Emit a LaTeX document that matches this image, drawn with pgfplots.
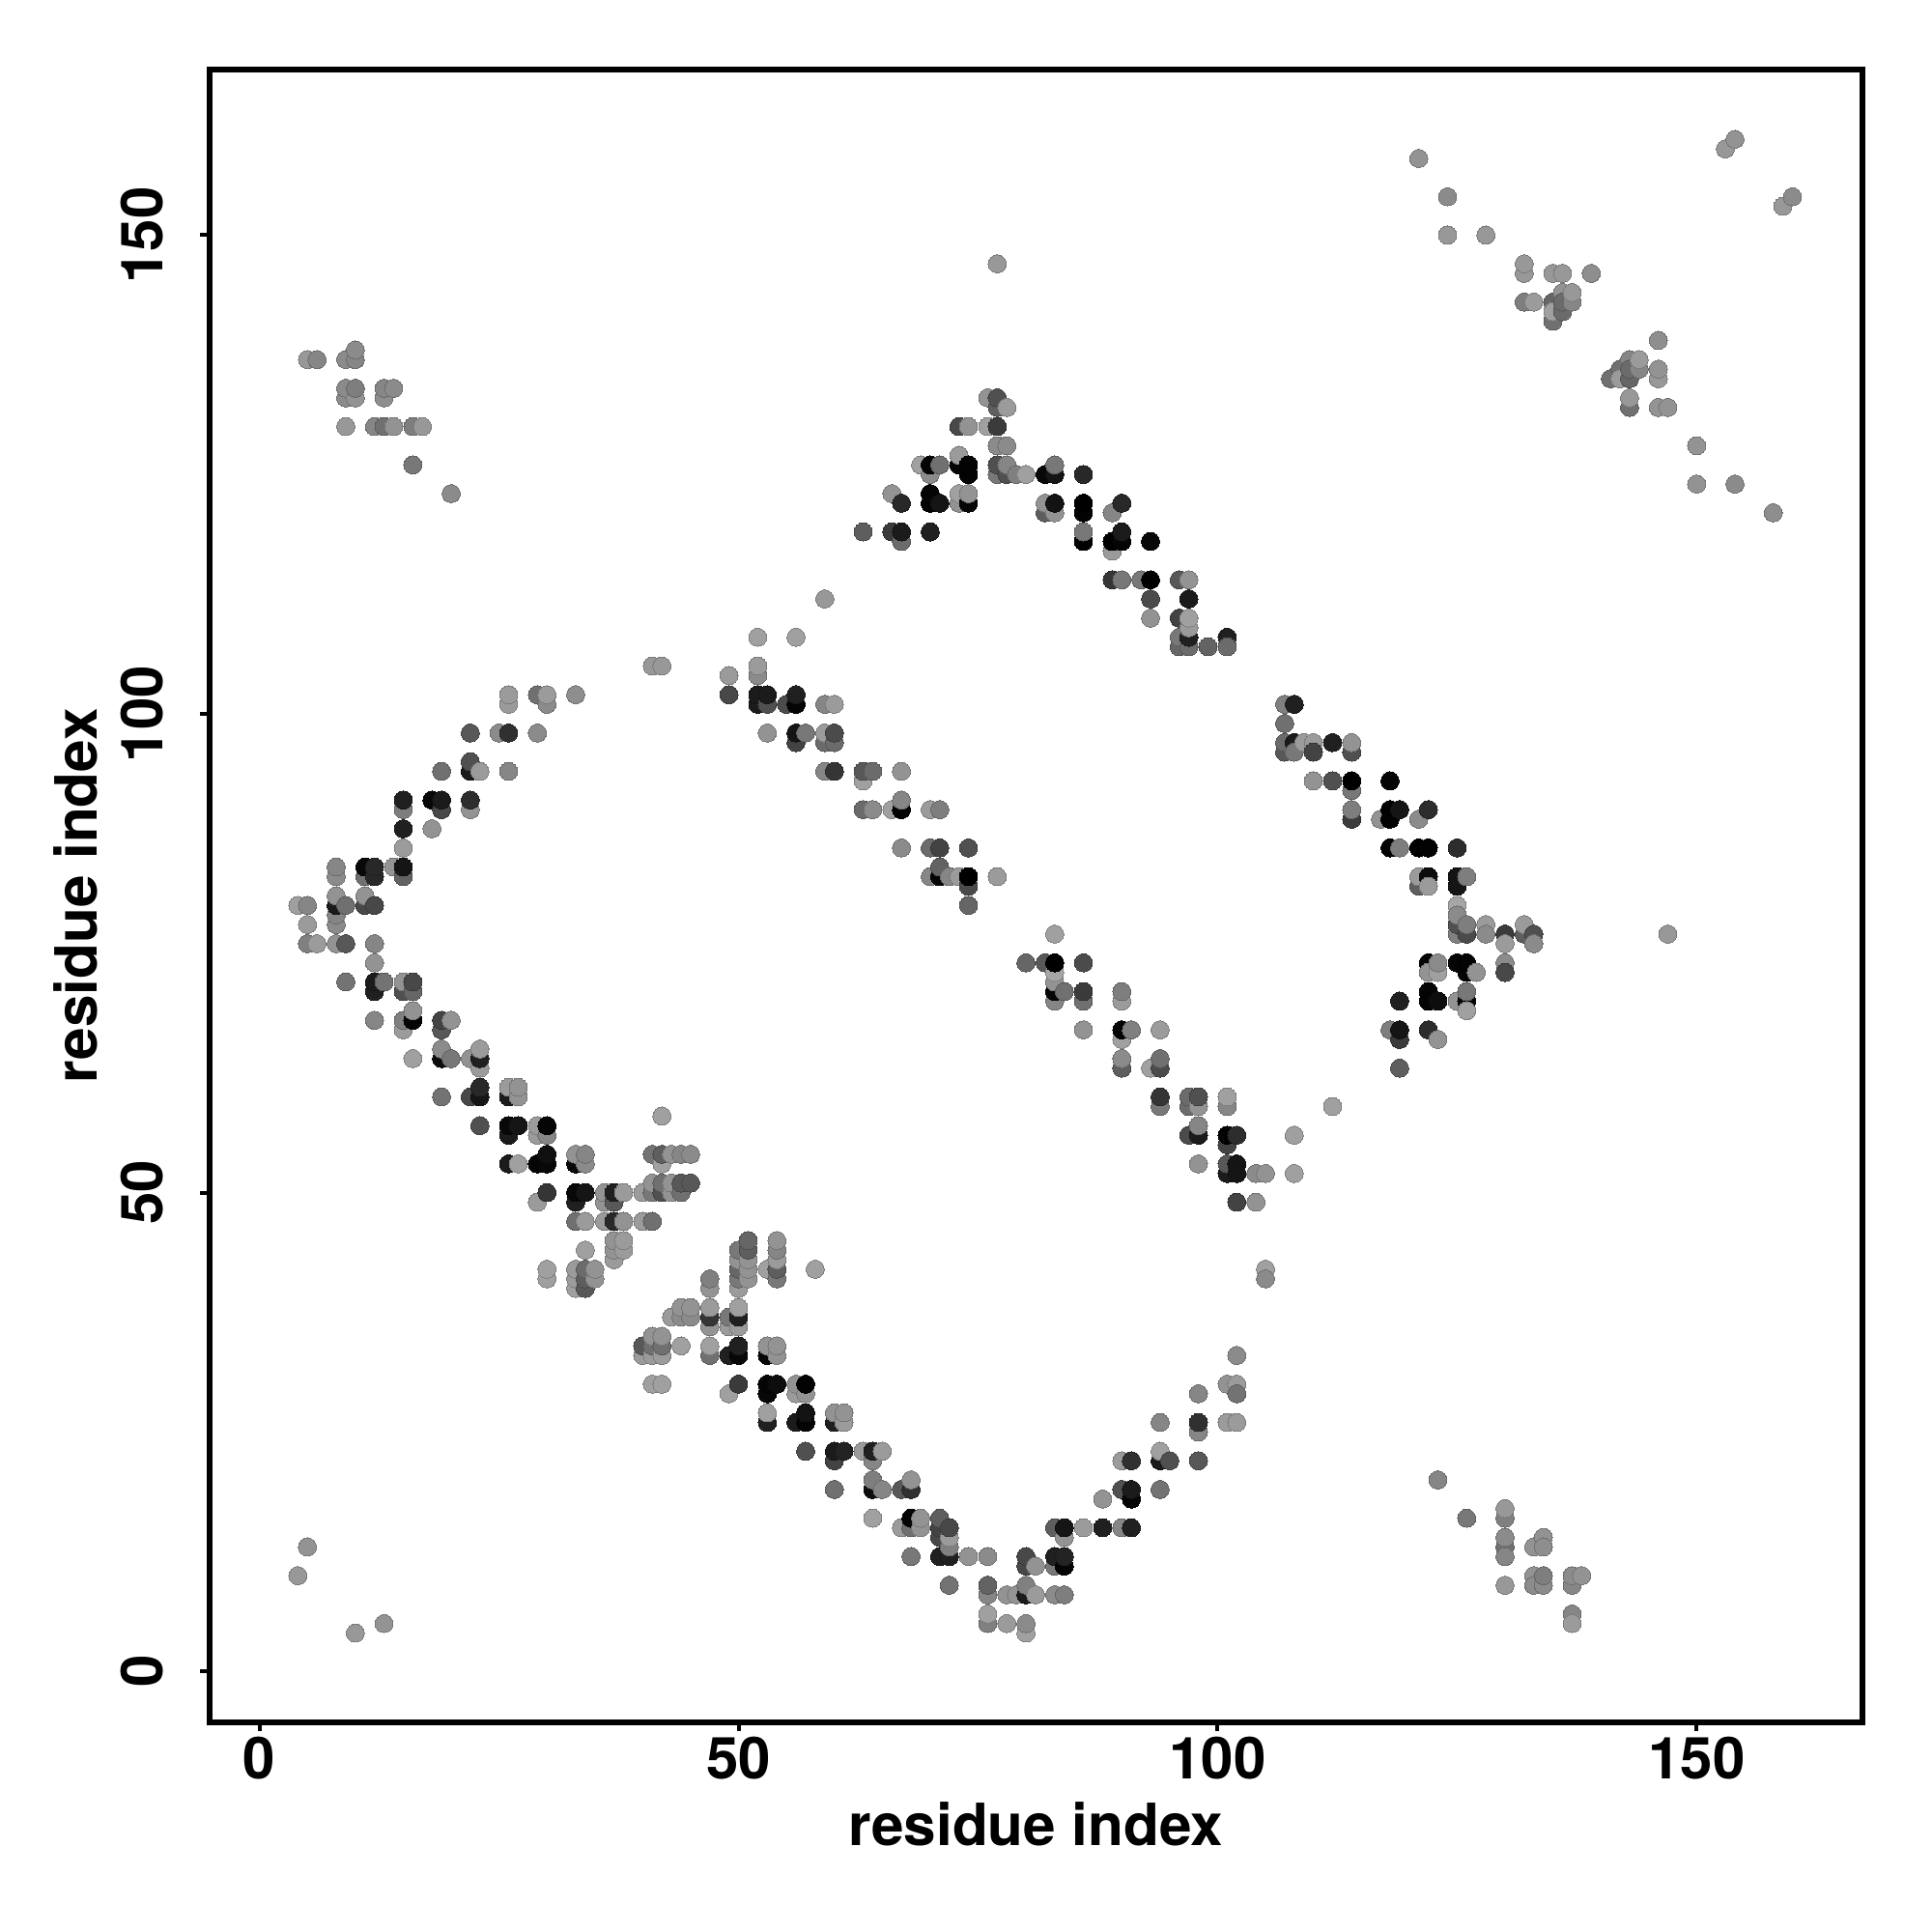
\documentclass[border=0pt]{standalone}
\usepackage{fontspec}
\setmainfont{TeX Gyre Heros}
\usepackage{pgfplots}
\usepackage{pgfplotstable}
\pgfplotsset{compat=1.18}
\pgfplotstableread[row sep=\\]{
x y g\\
26 102 .58\\ 29 102 .42\\ 30 102 .58\\ 33 102 .53\\ 26 101 .58\\ 30 101 .52\\
22 98 .33\\ 25 98 .52\\ 26 98 .18\\ 29 98 .52\\ 22 95 .3\\ 19 94 .42\\ 22 94 .1\\ 23 94 .58\\ 26 94 .5\\
15 91 .12\\ 18 91 .03\\ 19 91 .1\\ 22 91 .17\\ 15 90 .47\\ 19 90 .27\\ 22 90 .55\\ 15 88 .12\\ 18 88 .55\\ 15 86 .58\\
8 84 .5\\ 11 84 .03\\ 12 84 .15\\ 14 84 .55\\ 15 84 .08\\ 8 83 .52\\ 11 83 .42\\ 12 83 .15\\ 15 83 .37\\
8 81 .55\\ 11 81 .55\\ 4 80 .6\\ 5 80 .5\\ 8 80 .1\\ 9 80 .42\\ 11 80 .27\\ 12 80 .27\\ 8 79 .5\\ 5 78 .58\\ 8 78 .52\\
5 76 .48\\ 6 76 .58\\ 8 76 .55\\ 9 76 .33\\ 12 76 .5\\ 12 74 .55\\
9 72 .43\\ 12 72 .1\\ 13 72 .43\\ 15 72 .55\\ 16 72 .27\\ 12 71 .12\\ 15 71 .3\\ 16 71 .38\\
16 69 .55\\ 12 68 .5\\ 15 68 .48\\ 16 68 .02\\ 19 68 .25\\ 20 68 .55\\ 15 67 .58\\ 19 67 .33\\
19 65 .52\\ 23 65 .58\\ 16 64 .6\\ 19 64 .05\\ 20 64 .45\\ 22 64 .55\\ 23 64 .12\\ 23 63 .58\\
23 61 .15\\ 26 61 .58\\ 27 61 .55\\ 19 60 .43\\ 22 60 .27\\ 23 60 .08\\ 26 60 .1\\ 27 60 .55\\
42 58 .6\\ 23 57 .3\\ 26 57 .03\\ 27 57 .08\\ 29 57 .58\\ 30 57 .02\\ 26 56 .1\\ 29 56 .58\\ 30 56 .5\\
30 54 .06\\ 33 54 .55\\ 34 54 .5\\ 41 54 .43\\ 42 54 .35\\ 43 54 .55\\ 44 54 .5\\ 45 54 .52\\
26 53 .1\\ 27 53 .6\\ 29 53 .02\\ 30 53 .03\\ 33 53 .03\\ 34 53 .52\\ 42 53 .6\\
41 51 .55\\ 42 51 .42\\ 43 51 .55\\ 44 51 .33\\ 45 51 .33\\
30 50 .2\\ 33 50 .03\\ 34 50 .08\\ 36 50 .55\\ 37 50 .12\\ 38 50 .58\\ 40 50 .58\\ 41 50 .45\\ 42 50 .3\\ 43 50 .55\\ 44 50 .42\\
29 49 .58\\ 33 49 .12\\ 36 49 .55\\ 37 49 .33\\
33 47 .42\\ 34 47 .58\\ 36 47 .58\\ 37 47 .15\\ 38 47 .55\\ 40 47 .58\\ 41 47 .42\\
37 45 .55\\ 38 45 .58\\ 34 44 .6\\ 37 44 .55\\ 38 44 .58\\ 37 43 .58\\
30 42 .6\\ 33 42 .58\\ 34 42 .4\\ 35 42 .55\\ 30 41 .6\\ 33 41 .58\\ 34 41 .35\\ 35 41 .55\\ 33 40 .6\\ 34 40 .33\\
51 45 .38\\ 54 45 .55\\ 50 44 .45\\ 51 44 .35\\ 54 44 .5\\ 50 43 .55\\ 51 43 .55\\ 54 43 .58\\
50 42 .38\\ 51 42 .55\\ 53 42 .6\\ 54 42 .35\\ 58 42 .6\\ 47 41 .48\\ 50 41 .45\\ 51 41 .55\\ 54 41 .45\\ 47 40 .55\\ 50 40 .58\\
44 38 .55\\ 45 38 .55\\ 47 38 .58\\ 50 38 .6\\ 43 37 .58\\ 44 37 .52\\ 45 37 .52\\ 47 37 .2\\ 49 37 .45\\ 50 37 .12\\ 47 36 .55\\ 49 36 .58\\ 50 36 .58\\
41 35 .55\\ 42 35 .55\\ 40 34 .33\\ 41 34 .42\\ 42 34 .42\\ 44 34 .6\\ 47 34 .6\\ 50 34 .12\\ 53 34 .55\\ 54 34 .55\\
40 33 .58\\ 41 33 .58\\ 42 33 .58\\ 47 33 .42\\ 49 33 .12\\ 50 33 .03\\ 53 33 .02\\ 54 33 .55\\
41 30 .6\\ 42 30 .6\\ 50 30 .22\\ 53 30 .02\\ 54 30 .05\\ 56 30 .55\\ 57 30 .01\\ 49 29 .6\\ 53 29 .03\\ 56 29 .58\\ 57 29 .55\\
53 27 .6\\ 57 27 .07\\ 60 27 .55\\ 61 27 .55\\ 53 26 .12\\ 56 26 .1\\ 57 26 .02\\ 60 26 .12\\ 61 26 .58\\
57 23 .3\\ 60 23 .1\\ 61 23 .13\\ 63 23 .58\\ 64 23 .12\\ 65 23 .58\\ 60 22 .25\\ 64 22 .5\\
64 20 .47\\ 68 20 .55\\ 60 19 .42\\ 64 19 .05\\ 65 19 .5\\ 67 19 .33\\ 68 19 .18\\
64 16 .6\\ 68 16 .02\\ 69 16 .55\\ 71 16 .35\\ 67 15 .58\\ 68 15 .42\\ 71 15 .25\\ 68 12 .45\\ 71 12 .12\\
102 33 .52\\ 101 30 .55\\ 102 30 .58\\ 98 29 .5\\ 102 29 .43\\ 94 26 .5\\ 98 26 .18\\ 101 26 .58\\ 102 26 .58\\ 98 25 .5\\ 94 23 .6\\
90 22 .58\\ 91 22 .18\\ 94 22 .1\\ 95 22 .3\\ 98 22 .33\\ 90 19 .3\\ 91 19 .1\\ 94 19 .43\\ 88 18 .55\\ 91 18 .02\\
69 15 .55\\ 72 15 .27\\ 83 15 .35\\ 84 15 .08\\ 86 15 .58\\ 88 15 .12\\ 90 15 .5\\ 91 15 .12\\ 71 14 .27\\ 72 14 .58\\ 84 14 .55\\ 72 13 .48\\
72 12 .12\\ 74 12 .55\\ 76 12 .52\\ 80 12 .27\\ 83 12 .12\\ 84 12 .13\\ 80 11 .27\\ 81 11 .55\\ 83 11 .45\\ 84 11 .02\\
72 9 .43\\ 76 9 .37\\ 80 9 .48\\ 76 8 .5\\ 78 8 .55\\ 79 8 .55\\ 80 8 .1\\ 81 8 .58\\ 83 8 .52\\ 84 8 .47\\ 76 6 .6\\ 76 5 .48\\ 78 5 .58\\ 80 5 .52\\ 80 4 .6\\
52 108 .6\\ 56 108 .6\\ 52 105 .58\\ 49 104 .58\\ 52 104 .52\\ 49 102 .27\\ 52 102 .1\\ 53 102 .1\\ 56 102 .12\\
52 101 .1\\ 53 101 .3\\ 55 101 .28\\ 56 101 .02\\ 59 101 .5\\ 60 101 .58\\ 53 98 .55\\ 56 98 .08\\ 57 98 .45\\ 59 98 .58\\ 60 98 .28\\ 56 97 .25\\ 59 97 .4\\ 60 97 .4\\
59 94 .5\\ 60 94 .2\\ 63 94 .33\\ 64 94 .4\\ 67 94 .55\\ 63 93 .6\\ 67 91 .5\\ 63 90 .4\\ 64 90 .52\\ 66 90 .6\\ 67 90 .01\\ 70 90 .58\\ 71 90 .47\\
67 86 .52\\ 70 86 .4\\ 71 86 .25\\ 74 86 .3\\ 71 84 .37\\ 70 83 .5\\ 71 83 .02\\ 72 83 .5\\ 73 83 .58\\ 74 83 .0\\ 77 83 .58\\ 74 82 .28\\ 74 80 .38\\
83 77 .6\\ 80 74 .38\\ 82 74 .33\\ 83 74 .0\\ 86 74 .28\\ 83 73 .62\\ 83 72 .55\\ 83 71 .02\\ 84 71 .42\\ 86 71 .22\\ 90 71 .47\\ 83 70 .5\\ 86 70 .42\\ 90 70 .58\\
86 67 .55\\ 90 67 .01\\ 91 67 .48\\ 94 67 .58\\ 90 66 .6\\ 90 64 .52\\ 94 64 .42\\ 90 63 .35\\ 93 63 .6\\ 94 63 .28\\
94 60 .2\\ 97 60 .4\\ 98 60 .3\\ 101 60 .6\\ 94 59 .45\\ 97 59 .4\\ 98 59 .55\\ 101 59 .5\\ 112 59 .6\\ 98 57 .5\\ 97 56 .28\\ 98 56 .1\\ 101 56 .01\\ 102 56 .17\\ 108 56 .6\\ 101 55 .25\\
98 53 .55\\ 101 53 .33\\ 102 53 .08\\ 101 52 .1\\ 102 52 .08\\ 104 52 .52\\ 105 52 .55\\ 108 52 .6\\ 102 49 .25\\ 104 49 .55\\ 105 42 .6\\ 105 41 .52\\
76 133 .55\\ 77 133 .3\\ 77 132 .35\\ 78 132 .58\\ 73 130 .27\\ 74 130 .55\\ 76 130 .6\\ 77 130 .22\\ 77 128 .52\\ 78 128 .52\\ 73 127 .58\\
69 126 .6\\ 70 126 .02\\ 71 126 .42\\ 73 126 .02\\ 74 126 .01\\ 77 126 .3\\ 78 126 .5\\ 83 126 .45\\
70 125 .52\\ 74 125 .01\\ 77 125 .45\\ 78 125 .3\\ 79 125 .48\\ 80 125 .6\\ 82 125 .03\\ 83 125 .08\\ 86 125 .15\\
66 123 .55\\ 70 123 .02\\ 73 123 .6\\ 74 123 .55\\ 67 122 .15\\ 70 122 .01\\ 71 122 .08\\ 73 122 .55\\ 74 122 .02\\ 82 122 .55\\ 83 122 .07\\ 86 122 .0\\ 90 122 .15\\
82 121 .35\\ 83 121 .55\\ 86 121 .01\\ 89 121 .5\\ 63 119 .35\\ 66 119 .22\\ 67 119 .1\\ 70 119 .12\\ 86 119 .45\\ 90 119 .1\\ 67 118 .4\\ 86 118 .0\\ 89 118 .0\\ 90 118 .02\\ 93 118 .03\\ 89 117 .58\\
89 114 .2\\ 90 114 .45\\ 92 114 .45\\ 93 114 .0\\ 96 114 .33\\ 97 114 .55\\ 93 112 .28\\ 97 112 .1\\ 93 110 .55\\ 96 110 .25\\ 97 110 .6\\ 97 109 .58\\ 96 108 .45\\ 97 108 .12\\ 101 108 .12\\ 96 107 .38\\ 97 107 .4\\ 99 107 .37\\ 101 107 .4\\
107 101 .48\\ 108 101 .12\\ 107 99 .42\\ 107 97 .4\\ 108 97 .1\\ 109 97 .58\\ 110 97 .58\\ 112 97 .12\\ 114 97 .55\\ 107 96 .33\\ 108 96 .45\\ 110 96 .25\\ 114 96 .3\\
110 93 .55\\ 112 93 .3\\ 114 93 .0\\ 118 93 .02\\ 114 92 .45\\ 114 90 .47\\ 118 90 .0\\ 119 90 .08\\ 122 90 .17\\ 114 89 .22\\ 117 89 .55\\ 118 89 .01\\ 121 89 .52\\
118 86 .01\\ 119 86 .47\\ 121 86 .0\\ 122 86 .01\\ 125 86 .17\\ 121 83 .58\\ 122 83 .05\\ 125 83 .07\\ 126 83 .47\\ 121 82 .35\\ 122 82 .58\\ 125 82 .08\\
125 80 .62\\ 125 79 .52\\ 125 78 .3\\ 126 78 .47\\ 128 78 .58\\ 132 78 .58\\ 125 77 .48\\ 126 77 .28\\ 128 77 .52\\ 130 77 .22\\ 132 77 .35\\ 133 77 .3\\ 130 76 .58\\ 133 76 .52\\
122 74 .02\\ 123 74 .52\\ 125 74 .02\\ 126 74 .01\\ 130 74 .52\\ 122 73 .55\\ 123 73 .6\\ 126 73 .02\\ 127 73 .55\\ 130 73 .27\\ 122 71 .02\\ 126 71 .45\\ 119 70 .12\\ 122 70 .01\\ 123 70 .05\\ 125 70 .55\\ 126 70 .02\\ 126 69 .6\\
118 67 .47\\ 119 67 .08\\ 122 67 .17\\ 119 66 .22\\ 123 66 .55\\ 119 63 .35\\
121 158 .55\\ 124 154 .52\\ 124 150 .57\\ 128 150 .57\\ 132 147 .57\\ 132 146 .57\\ 135 146 .57\\ 136 146 .57\\ 139 146 .53\\ 136 144 .55\\ 137 144 .57\\ 132 143 .47\\ 133 143 .58\\ 135 143 .38\\ 136 143 .4\\ 137 143 .5\\ 135 142 .6\\ 136 142 .4\\ 135 141 .42\\
154 160 .55\\ 153 159 .57\\ 160 154 .52\\ 159 153 .57\\ 146 139 .53\\ 143 137 .5\\ 144 137 .58\\ 142 136 .42\\ 143 136 .4\\ 144 136 .5\\ 146 136 .55\\ 141 135 .42\\ 142 135 .58\\ 143 135 .38\\ 146 135 .57\\ 143 133 .57\\ 143 132 .42\\ 146 132 .55\\ 147 132 .55\\ 150 128 .55\\ 150 124 .55\\ 154 124 .52\\ 158 121 .53\\
123 20 .5\\ 130 17 .57\\ 126 16 .45\\ 130 16 .48\\ 130 14 .52\\ 134 14 .55\\ 130 13 .42\\ 133 13 .55\\ 134 13 .53\\ 130 12 .5\\ 133 10 .55\\ 134 10 .47\\ 137 10 .52\\ 138 10 .55\\ 130 9 .57\\ 133 9 .52\\ 134 9 .52\\ 137 9 .5\\ 137 6 .5\\ 137 5 .58\\
10 138 .52\\ 5 137 .57\\ 6 137 .5\\ 9 137 .52\\ 10 137 .5\\ 9 134 .52\\ 10 134 .47\\ 13 134 .5\\ 14 134 .52\\ 9 133 .52\\ 10 133 .55\\ 13 133 .53\\ 9 130 .57\\ 12 130 .5\\ 13 130 .42\\ 14 130 .55\\ 16 130 .47\\ 17 130 .57\\ 16 126 .45\\ 20 123 .52\\
5 13 .55\\ 4 10 .57\\ 10 4 .57\\ 13 5 .55\\ 77 147 .57\\ 59 112 .57\\ 41 105 .57\\ 42 105 .57\\ 147 77 .57\\
}\rawpts
\pgfplotstablecreatecol[create col/expr={\thisrow{x}*1000+\thisrow{y}}]{key}{\rawpts}
\pgfplotstablesort[sort key=key,sort cmp=float <]{\pts}{\rawpts}
\begin{document}
\begin{tikzpicture}[x=1pt,y=1pt]
\useasboundingbox (-78.05pt,-78.2pt) rectangle (641.95pt,641.8pt);
\begin{axis}[
  at={(0pt,0pt)},anchor=south west,
  scale only axis,width=616pt,height=616pt,
  xmin=-5.23,xmax=167.3,ymin=-5.3,ymax=167.32,
  axis line style={line width=2.16pt},
  xtick={0,50,100,150},ytick={0,50,100,150},
  xtick pos=bottom,ytick pos=left,tick align=outside,
  major tick length=3.4pt,
  tick style={line width=1.44pt,black},
  /pgf/number format/assume math mode=true,
  tick label style={font=\fontsize{21.6}{24}\selectfont\bfseries},
  xticklabel style={yshift=1.5pt},
  yticklabel style={rotate=90,anchor=south,yshift=10.4pt},
  xlabel={residue index},ylabel={residue index},
  label style={font=\fontsize{21.7}{24}\selectfont\bfseries},
  xlabel style={at={(axis description cs:0.5,0)},anchor=center,yshift=-38pt},
  ylabel style={at={(axis description cs:0,0.5)},anchor=center,rotate=0,yshift=50pt},
  colormap={bw}{gray(0cm)=(0);gray(1cm)=(1)},
  point meta min=0,point meta max=0.96,
]
\addplot[scatter,only marks,mark=*,mark size=3.38pt,mark options={line width=0pt},scatter src=explicit]
  table[x=x,y=y,meta=g]{\pts};
\end{axis}
\end{tikzpicture}
\end{document}
